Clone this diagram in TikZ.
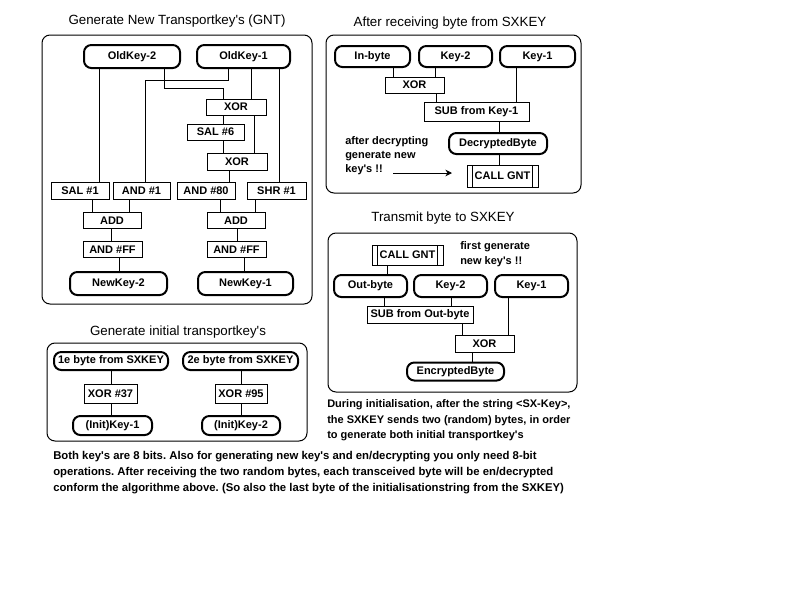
\documentclass[tikz,border=0pt]{standalone}
\usepackage{fontspec}
\setmainfont{Liberation Sans}[Ligatures=TeXOff]
\usetikzlibrary{arrows.meta}
\frenchspacing

\tikzset{
  lbl/.style={font=\fontsize{8.25}{10.5}\selectfont\bfseries},
  ttl/.style={font=\fontsize{10}{12}\selectfont, inner sep=0pt},
  opbox/.style={draw, line width=0.75pt, inner sep=0pt, lbl},
  keybox/.style={draw, line width=1.5pt, rounded corners=5.5pt, inner sep=0pt, lbl},
  callbox/.style={opbox, path picture={
    \draw[line width=0.75pt] ([xshift=4pt]path picture bounding box.north west) -- ([xshift=4pt]path picture bounding box.south west)
      ([xshift=-4pt]path picture bounding box.north east) -- ([xshift=-4pt]path picture bounding box.south east);}},
  panel/.style={draw, line width=0.75pt, rounded corners=6pt},
  wire/.style={line width=0.75pt},
  sz/.style 2 args={minimum width=#1*0.75pt, minimum height=#2*0.75pt},
}

\begin{document}
\begin{tikzpicture}[x=0.75pt,y=0.75pt,yscale=-1,xscale=1]
\useasboundingbox (0,0) rectangle (800,600);

%%%% Generate New Transportkey's (GNT)
% Text Node
\node[ttl] (gTitle) at (177,21) {Generate New Transportkey's (GNT)};
%Shape: Rounded Rect
\draw[panel] (42,35) rectangle (312,304);
% Key Nodes
\node[keybox, sz={96}{23}] (gOld2) at (132,56.5) {OldKey-2};
\node[keybox, sz={93}{23}] (gOld1) at (243.5,56.5) {OldKey-1};
% Operation Nodes
\node[opbox, sz={60}{16}] (gXor1) at (236,107) {XOR};
\node[opbox, sz={57}{16}] (gSal6) at (215.5,132) {SAL \#6};
\node[opbox, sz={60}{17}] (gXor2) at (237,161.5) {XOR};
\node[opbox, sz={58}{17}] (gSal1) at (80,190.5) {SAL \#1};
\node[opbox, sz={57}{17}] (gAnd1) at (141.5,190.5) {AND \#1};
\node[opbox, sz={58}{17}] (gAnd80) at (206,190.5) {AND \#80};
\node[opbox, sz={59}{17}] (gShr1) at (276.5,190.5) {SHR \#1};
\node[opbox, sz={58}{16}] (gAddL) at (112,220.5) {ADD};
\node[opbox, sz={58}{16}] (gAddR) at (236,220.5) {ADD};
\node[opbox, sz={59}{16}] (gAndFFL) at (112.5,249.5) {AND \#FF};
\node[opbox, sz={59}{16}] (gAndFFR) at (236.5,249.5) {AND \#FF};
\node[keybox, sz={97}{23}] (gNew2) at (118.5,283.5) {NewKey-2};
\node[keybox, sz={95}{23}] (gNew1) at (245.5,283.5) {NewKey-1};
% Lines
\draw[wire] (gOld2.south -| 99,0) -- (gSal1.north -| 99,0);
\draw[wire] (gOld2.south -| 164,0) |- (223,88) -- (gXor1.north -| 223,0);
\draw[wire] (gOld1.south -| 228,0) |- (145,80) -- (gAnd1.north -| 145,0);
\draw[wire] (gOld1.south -| 251,0) -- (gXor1.north -| 251,0);
\draw[wire] (gOld1.south -| 279,0) -- (gShr1.north -| 279,0);
\draw[wire] (gXor1.south -| 223,0) -- (gSal6.north -| 223,0);
\draw[wire] (gXor1.south -| 254,0) -- (gXor2.north -| 254,0);
\draw[wire] (gSal6.south -| 223,0) -- (gXor2.north -| 223,0);
\draw[wire] (gXor2.south -| 229,0) -- (gAnd80.north -| 229,0);
\draw[wire] (gSal1.south -| 92,0) -- (gAddL.north -| 92,0);
\draw[wire] (gAnd1.south -| 129,0) -- (gAddL.north -| 129,0);
\draw[wire] (gAnd80.south -| 220,0) -- (gAddR.north -| 220,0);
\draw[wire] (gShr1.south -| 255,0) -- (gAddR.north -| 255,0);
\draw[wire] (gAddL.south -| 111,0) -- (gAndFFL.north -| 111,0);
\draw[wire] (gAddR.south -| 237,0) -- (gAndFFR.north -| 237,0);
\draw[wire] (gAndFFL.south -| 119,0) -- (gNew2.north -| 119,0);
\draw[wire] (gAndFFR.south -| 244,0) -- (gNew1.north -| 244,0);

%%%% After receiving byte from SXKEY
% Text Node
\node[ttl] (rTitle) at (450,23) {After receiving byte from SXKEY};
%Shape: Rounded Rect
\draw[panel] (326,35) rectangle (581,193);
\node[keybox, sz={75}{21}] (rIn) at (372.5,56.5) {In-byte};
\node[keybox, sz={73}{21}] (rKey2) at (455.5,56.5) {Key-2};
\node[keybox, sz={75}{21}] (rKey1) at (537.5,56.5) {Key-1};
\node[opbox, sz={59}{16}] (rXor) at (414.5,85) {XOR};
\node[opbox, sz={105}{19}] (rSub) at (476.5,112) {SUB from Key-1};
\node[keybox, sz={98}{21}] (rDec) at (498,143.5) {DecryptedByte};
\node[callbox, sz={71}{22}] (rCall) at (502.5,176) {CALL GNT};
% Lines
\draw[wire] (rIn.south -| 393,0) -- (rXor.north -| 393,0);
\draw[wire] (rKey2.south -| 435,0) -- (rXor.north -| 435,0);
\draw[wire] (rXor.south -| 436,0) -- (rSub.north -| 436,0);
\draw[wire] (rKey1.south -| 516,0) -- (rSub.north -| 516,0);
\draw[wire] (rSub.south -| 499,0) -- (rDec.north -| 499,0);
\draw[wire] (rDec.south -| 499,0) -- (rCall.north -| 499,0);
% Text Node
\node[lbl, anchor=west, align=left, inner sep=0pt] (rNote) at (345,156) {after decrypting\\generate new\\key's !!};
\coordinate (rArrS) at (393,173);
\coordinate (rArrE) at (452,173);
\draw[wire, -{Stealth[length=5pt,width=5pt]}] (rArrS) -- (rArrE);

%%%% Transmit byte to SXKEY
% Text Node
\node[ttl] (tTitle) at (443,218) {Transmit byte to SXKEY};
%Shape: Rounded Rect
\draw[panel] (328,233) rectangle (577,392);
\node[callbox, sz={71}{20}] (tCall) at (407.5,255) {CALL GNT};
\node[lbl, anchor=west, align=left, inner sep=0pt, font=\fontsize{8.25}{11.25}\selectfont\bfseries] (tNote) at (460,254.5) {first generate\\new key's !!};
\node[keybox, sz={73}{22}] (tOut) at (370.5,286) {Out-byte};
\node[keybox, sz={73}{22}] (tKey2) at (450.5,286) {Key-2};
\node[keybox, sz={73}{22}] (tKey1) at (531.5,286) {Key-1};
\node[opbox, sz={106}{17}] (tSub) at (420,314.5) {SUB from Out-byte};
\node[opbox, sz={59}{17}] (tXor) at (484.5,343.5) {XOR};
\node[keybox, sz={97}{18}] (tEnc) at (455.5,371.5) {EncryptedByte};
% Lines
\draw[wire] (tCall.south -| 387,0) -- (tOut.north -| 387,0);
\draw[wire] (tOut.south -| 384,0) -- (tSub.north -| 384,0);
\draw[wire] (tKey2.south -| 451,0) -- (tSub.north -| 451,0);
\draw[wire] (tSub.south -| 462,0) -- (tXor.north -| 462,0);
\draw[wire] (tKey1.south -| 508,0) -- (tXor.north -| 508,0);
\draw[wire] (tXor.south -| 472,0) -- (tEnc.north -| 472,0);
% Text Node
\node[lbl, anchor=west, align=left, inner sep=0pt, font=\fontsize{8.25}{11.6}\selectfont\bfseries] (tInfo) at (327,420.5) {During initialisation, after the string <SX-Key>,\\the SXKEY sends two (random) bytes, in order\\to generate both initial transportkey's};

%%%% Generate initial transportkey's
% Text Node
\node[ttl] (iTitle) at (178,332) {Generate initial transportkey's};
%Shape: Rounded Rect
\draw[panel] (47,343) rectangle (307,441);
\node[keybox, sz={114}{18}] (iByte1) at (111,361) {1e byte from SXKEY};
\node[keybox, sz={115}{18}] (iByte2) at (240.5,361) {2e byte from SXKEY};
\node[opbox, sz={53}{19}] (iXor37) at (110.5,393.5) {XOR \#37};
\node[opbox, sz={52}{19}] (iXor95) at (241,393.5) {XOR \#95};
\node[keybox, sz={79}{19}] (iKey1) at (112.5,425.5) {(Init)Key-1};
\node[keybox, sz={78}{19}] (iKey2) at (241,425.5) {(Init)Key-2};
% Lines
\draw[wire] (iByte1.south -| 111,0) -- (iXor37.north -| 111,0);
\draw[wire] (iXor37.south -| 111,0) -- (iKey1.north -| 111,0);
\draw[wire] (iByte2.south -| 241,0) -- (iXor95.north -| 241,0);
\draw[wire] (iXor95.south -| 241,0) -- (iKey2.north -| 241,0);

% Text Node
\node[lbl, anchor=west, align=left, inner sep=0pt, font=\fontsize{8.5}{12}\selectfont\bfseries] (bNote) at (53,473) {Both key's are 8 bits. Also for generating new key's and en/decrypting you only need 8-bit\\operations. After receiving the two random bytes, each transceived byte will be en/decrypted\\conform the algorithme above. (So also the last byte of the initialisationstring from the SXKEY)};
\end{tikzpicture}
\end{document}
